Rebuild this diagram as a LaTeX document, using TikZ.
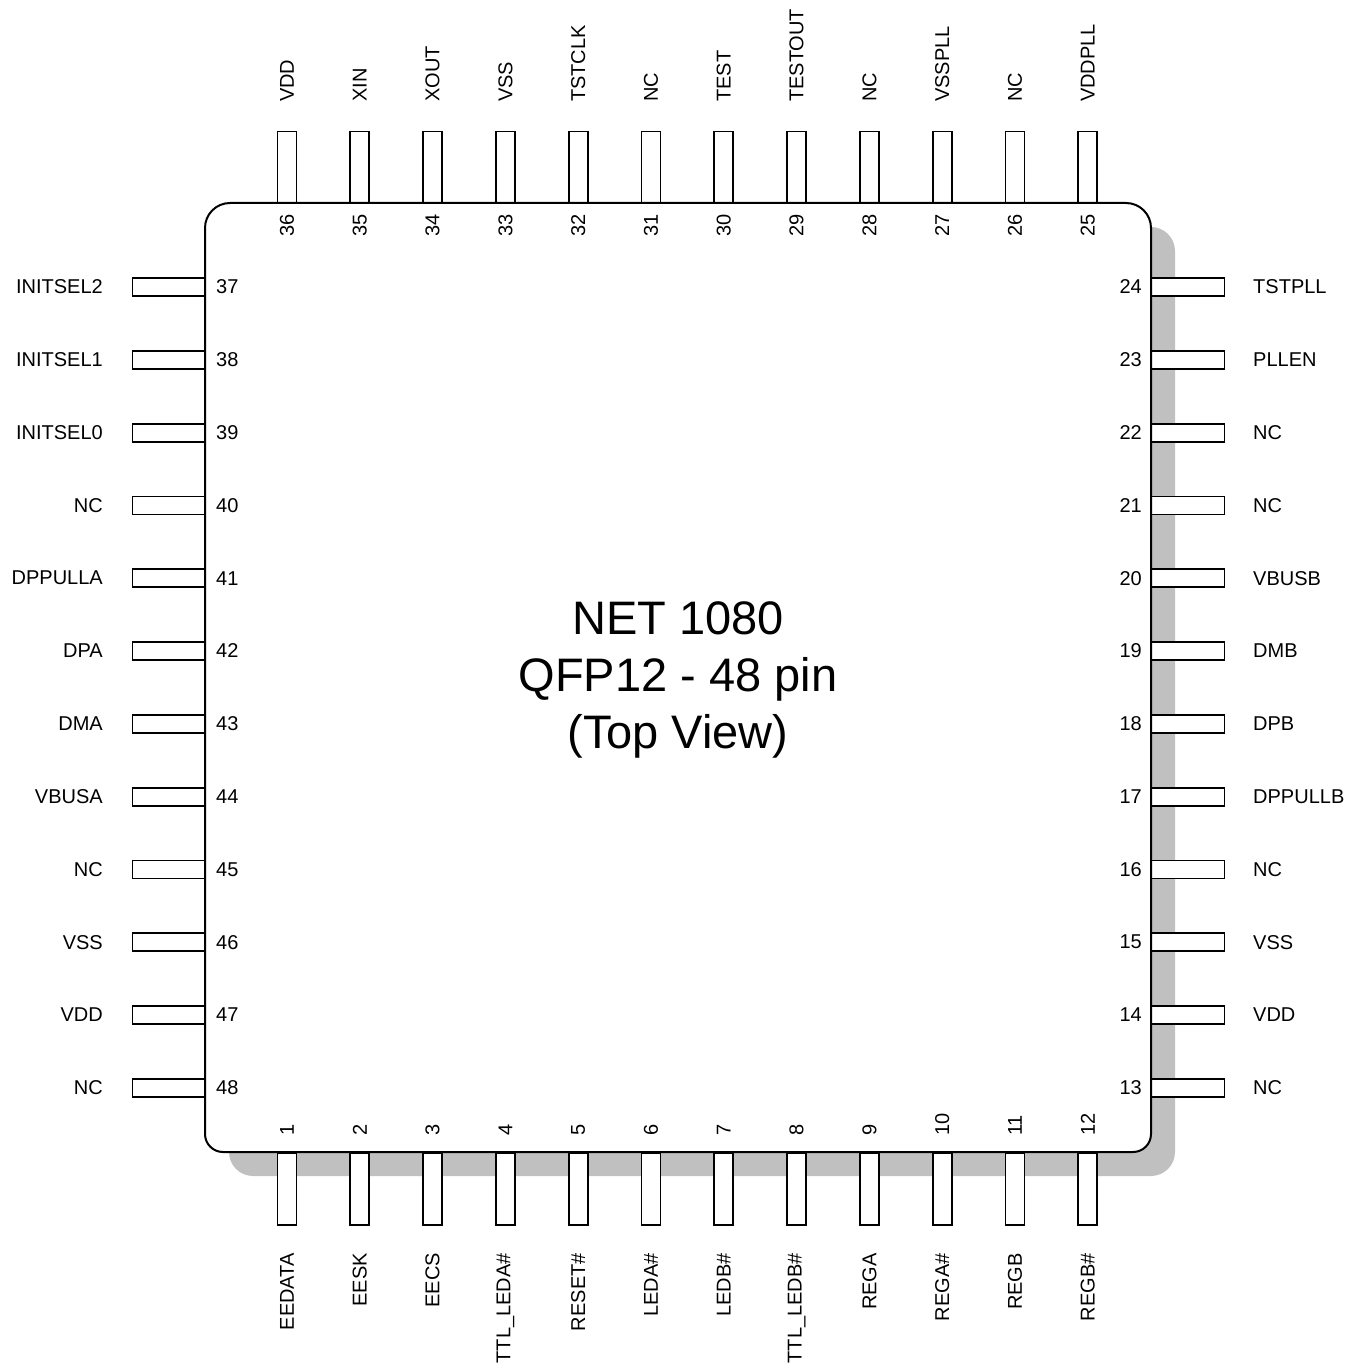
\documentclass[tikz,border=0pt]{standalone}
\usepackage{fontspec}
\setmainfont{Liberation Sans}
\definecolor{shadowgrey}{RGB}{192,192,192}
\begin{document}
\begin{tikzpicture}[x=1pt,y=-1pt,
  pinv/.style={draw,line width=1.8pt,fill=white,minimum width=19pt,minimum height=72pt,inner sep=0pt},
  pinh/.style={draw,line width=1.8pt,fill=white,minimum width=73pt,minimum height=18pt,inner sep=0pt},
  lbl/.style={font=\fontsize{20}{24}\selectfont,inner sep=0pt},
  body/.style={draw,line width=2pt,fill=white},
  shadow/.style={fill=shadowgrey}]
\useasboundingbox (0,0) rectangle (1368,1372);
% shadow
\fill[shadow,rounded corners=24] (229,227) rectangle (1175,1176);
% pins (drawn before body so body edge covers their inner ends)
\foreach \name [count=\i from 0] in {VDD,XIN,XOUT,VSS,TSTCLK,NC,TEST,TESTOUT,NC,VSSPLL,NC,VDDPLL}{
  \pgfmathsetmacro\c{287+72.8*\i}
  \pgfmathtruncatemacro\n{36-\i}
  \node[pinv] (p\n) at (\c,167.5) {};
  \node[lbl,rotate=90,anchor=west] (l\n) at (\c,102) {\name};
}
\foreach \name [count=\i from 0] in {EEDATA,EESK,EECS,TTL\_LEDA\#,RESET\#,LEDA\#,LEDB\#,TTL\_LEDB\#,REGA,REGA\#,REGB,REGB\#}{
  \pgfmathsetmacro\c{287+72.8*\i}
  \pgfmathtruncatemacro\n{1+\i}
  \node[pinv] (p\n) at (\c,1189) {};
  \node[lbl,rotate=90,anchor=east] (l\n) at (\c,1253) {\name};
}
\foreach \name [count=\i from 0] in {INITSEL2,INITSEL1,INITSEL0,NC,DPPULLA,DPA,DMA,VBUSA,NC,VSS,VDD,NC}{
  \pgfmathsetmacro\c{287+72.8*\i}
  \pgfmathtruncatemacro\n{37+\i}
  \node[pinh] (p\n) at (169,\c) {};
  \node[lbl,anchor=east] (l\n) at (103,\c) {\name};
}
\foreach \name [count=\i from 0] in {TSTPLL,PLLEN,NC,NC,VBUSB,DMB,DPB,DPPULLB,NC,VSS,VDD,NC}{
  \pgfmathsetmacro\c{287+72.8*\i}
  \pgfmathtruncatemacro\n{24-\i}
  \node[pinh] (p\n) at (1188,\c) {};
  \node[lbl,anchor=west] (l\n) at (1253,\c) {\name};
}
% body
\draw[body,rounded corners=25] (205,700) -- (205,203) -- (1151,203) -- (1151,700)
  [rounded corners=18] -- (1151,1152) -- (205,1152) -- cycle;
% pin numbers
\foreach \i in {0,...,11}{
  \pgfmathsetmacro\c{287+72.8*\i}
  \pgfmathtruncatemacro\nt{36-\i}
  \pgfmathtruncatemacro\nb{1+\i}
  \pgfmathtruncatemacro\nl{37+\i}
  \pgfmathtruncatemacro\nr{24-\i}
  \node[lbl,rotate=90,anchor=east] (n\nt) at (\c,214) {\nt};
  \node[lbl,rotate=90,anchor=west] (n\nb) at (\c,1136) {\nb};
  \node[lbl,anchor=west] (n\nl) at (216,\c) {\nl};
  \node[lbl,anchor=east] (n\nr) at (1142,\c) {\nr};
}
% title
\node[align=center,inner sep=0pt,font=\fontsize{47}{57}\selectfont] (title) at (678,680)
  {NET 1080\\QFP12 - 48 pin\\(Top View)};
\end{tikzpicture}
\end{document}
